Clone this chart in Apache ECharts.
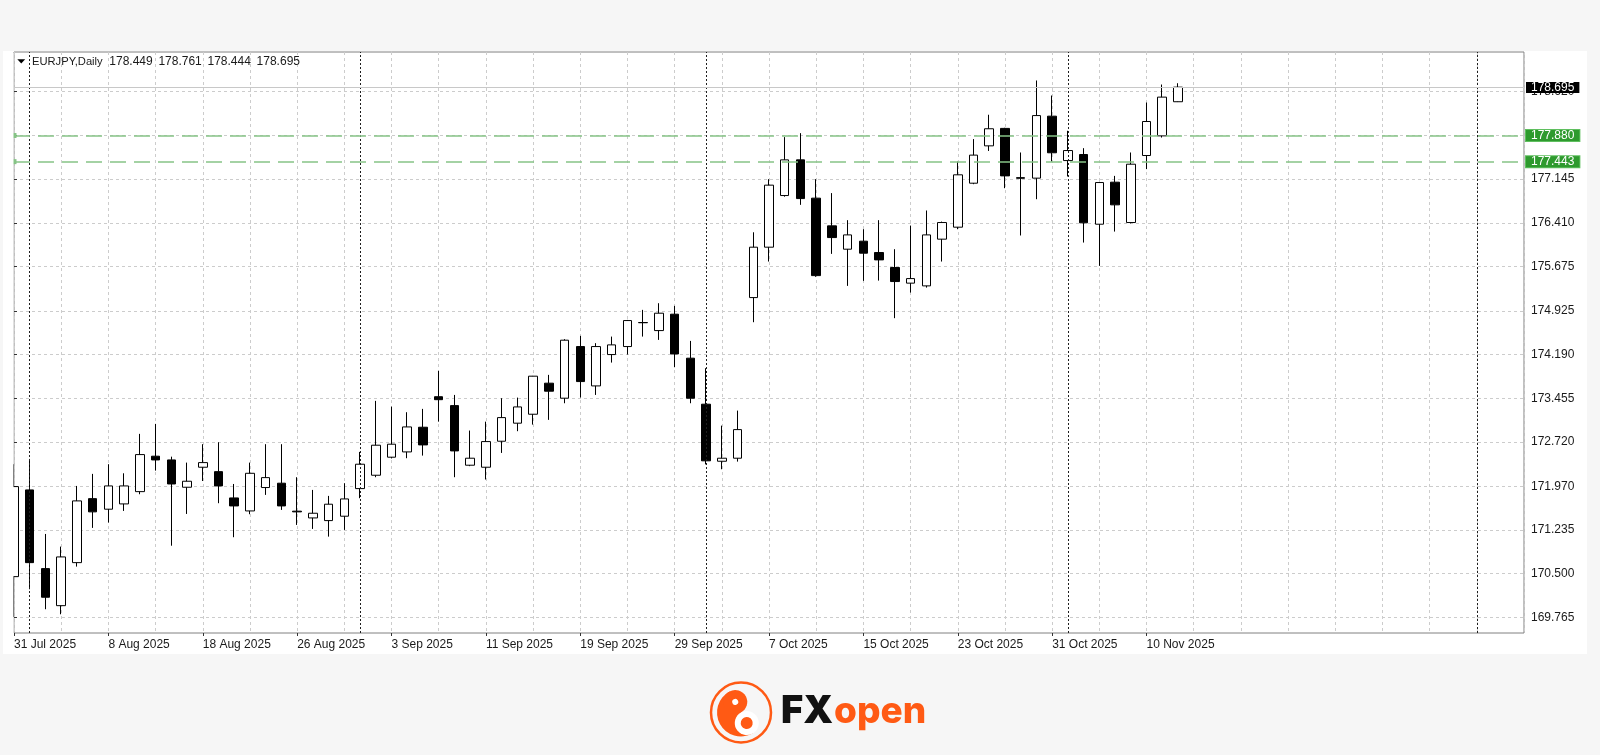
<!DOCTYPE html>
<html>
<head>
<meta charset="utf-8">
<script src="https://cdn.jsdelivr.net/npm/echarts@6/dist/echarts.min.js"></script>
<style>
html,body{margin:0;padding:0;background:#f6f6f6;}
#c{width:1600px;height:755px;}
</style>
</head>
<body>
<div id="c"></div>
<script>
// ---------------- data ----------------
const symbolName = 'EURJPY,Daily';

const dates = [
  '31 Jul 2025',
  '1 Aug 2025','4 Aug 2025','5 Aug 2025','6 Aug 2025','7 Aug 2025','8 Aug 2025',
  '11 Aug 2025','12 Aug 2025','13 Aug 2025','14 Aug 2025','15 Aug 2025',
  '18 Aug 2025','19 Aug 2025','20 Aug 2025','21 Aug 2025','22 Aug 2025',
  '25 Aug 2025','26 Aug 2025','27 Aug 2025','28 Aug 2025','29 Aug 2025',
  '1 Sep 2025','2 Sep 2025','3 Sep 2025','4 Sep 2025','5 Sep 2025',
  '8 Sep 2025','9 Sep 2025','10 Sep 2025','11 Sep 2025','12 Sep 2025',
  '15 Sep 2025','16 Sep 2025','17 Sep 2025','18 Sep 2025','19 Sep 2025',
  '22 Sep 2025','23 Sep 2025','24 Sep 2025','25 Sep 2025','26 Sep 2025',
  '29 Sep 2025','30 Sep 2025',
  '1 Oct 2025','2 Oct 2025','3 Oct 2025',
  '6 Oct 2025','7 Oct 2025','8 Oct 2025','9 Oct 2025','10 Oct 2025',
  '13 Oct 2025','14 Oct 2025','15 Oct 2025','16 Oct 2025','17 Oct 2025',
  '20 Oct 2025','21 Oct 2025','22 Oct 2025','23 Oct 2025','24 Oct 2025',
  '27 Oct 2025','28 Oct 2025','29 Oct 2025','30 Oct 2025','31 Oct 2025',
  '3 Nov 2025','4 Nov 2025','5 Nov 2025','6 Nov 2025','7 Nov 2025',
  '10 Nov 2025','11 Nov 2025','12 Nov 2025'
];

const open = [
  170.449,171.910,170.584,169.960,170.685,171.763,171.585,171.674,171.881,172.478,
  172.415,171.955,172.292,172.218,171.775,171.556,171.950,172.023,171.552,171.438,
  171.393,171.467,171.932,172.157,172.461,172.550,172.966,173.480,173.330,172.326,
  172.292,172.730,173.034,173.185,173.708,173.455,174.325,173.662,174.190,174.325,
  174.730,174.594,174.870,174.129,173.354,172.393,172.444,175.150,175.999,176.869,
  177.470,176.825,176.358,175.965,176.100,175.909,175.656,175.393,175.347,176.134,
  176.336,177.077,177.706,178.000,177.170,177.162,178.206,177.458,177.560,176.386,
  177.094,176.414,177.543,177.874,178.449
];
const high = [
  172.343,172.432,171.168,170.955,171.977,172.180,172.343,172.190,172.854,173.022,
  172.470,172.370,172.680,172.713,172.010,172.370,172.680,172.680,172.124,171.910,
  171.809,172.023,172.550,173.410,173.313,173.219,173.275,173.915,173.510,172.910,
  173.060,173.455,173.465,173.830,173.848,174.449,174.505,174.382,174.493,174.774,
  174.943,175.055,175.010,174.420,173.960,172.993,173.246,176.250,177.145,177.853,
  177.920,177.145,176.910,176.454,176.302,176.454,175.965,176.363,176.617,176.430,
  177.442,177.820,178.230,178.010,177.594,178.807,178.554,177.960,177.667,177.100,
  177.200,177.594,178.436,178.739,178.761
];
const low = [
  169.770,170.237,169.900,169.815,170.618,171.270,171.360,171.556,171.837,172.235,
  170.970,171.505,172.060,171.686,171.113,171.500,171.826,171.573,171.320,171.253,
  171.123,171.236,171.770,172.124,172.440,172.444,172.488,173.060,172.124,172.310,
  172.085,172.533,172.899,173.010,173.090,173.370,173.465,173.510,174.055,174.190,
  174.493,174.437,173.977,173.370,172.340,172.258,172.387,174.735,175.757,176.850,
  176.712,175.500,175.886,175.347,175.431,175.436,174.803,175.234,175.318,175.757,
  176.302,177.060,177.620,176.993,176.196,176.807,177.442,177.190,176.077,175.684,
  176.262,176.400,177.314,177.846,178.444
];
const close = [
  171.966,170.685,170.102,170.781,171.725,171.540,171.977,171.977,172.505,172.415,
  172.010,172.056,172.370,171.977,171.640,172.190,172.117,171.640,171.540,171.517,
  171.669,171.758,172.343,172.663,172.680,172.971,172.668,173.430,172.567,172.444,
  172.724,173.128,173.308,173.826,173.573,174.432,173.735,174.325,174.353,174.763,
  174.726,174.887,174.200,173.455,172.400,172.444,172.926,175.999,177.044,177.470,
  176.818,175.520,176.161,176.206,175.898,175.785,175.420,175.470,176.206,176.414,
  177.218,177.550,177.994,177.200,177.160,178.216,177.589,177.627,176.409,177.088,
  176.712,177.397,178.116,178.527,178.695
];

const xTickLabels = ['31 Jul 2025','8 Aug 2025','18 Aug 2025','26 Aug 2025','3 Sep 2025',
  '11 Sep 2025','19 Sep 2025','29 Sep 2025','7 Oct 2025','15 Oct 2025','23 Oct 2025',
  '31 Oct 2025','10 Nov 2025'];
const yTickLabels = ['169.765','170.500','171.235','171.970','172.720','173.455','174.190',
  '174.925','175.675','176.410','177.145','177.880','178.620'];

const levelLines = [177.880, 177.443];          // green horizontal levels
const separatorBars = [1, 22, 44, 67, 93];      // month separators (bar index)

// ---------------- build ----------------
const last = close.length - 1;
const candles = dates.map((d, i) => [i, open[i], close[i], low[i], high[i]]);
const xTickIdx = xTickLabels.map(l => dates.indexOf(l));
const xGrid = []; for (let v = 0; v <= 96; v += 3) xGrid.push(v);
const yTicks = yTickLabels.map(Number);

const FONT = 'Liberation Sans';
const TXT = '#1a1a1a';
const ORANGE = '#ff5a14';

const chart = echarts.init(document.getElementById('c'), null, {renderer: 'canvas'});

const greenLabel = v => ({
  show: true, position: 'end', distance: 2, formatter: v.toFixed(3),
  backgroundColor: '#2e9a2e', borderColor: '#5fbf5f', borderWidth: 1,
  color: '#ffffff', fontFamily: FONT, fontSize: 12, lineHeight: 11, padding: [0, 5, 0, 5]
});

const markData = [];
separatorBars.forEach(b => markData.push({
  xAxis: b, label: {show: false},
  lineStyle: {color: '#1e1e1e', type: [2, 2], width: 1}
}));
markData.push({
  yAxis: close[last],
  lineStyle: {color: '#c8c8c8', type: 'solid', width: 1},
  label: {show: true, position: 'end', distance: 2, formatter: close[last].toFixed(3),
    backgroundColor: '#000000', color: '#ffffff', fontFamily: FONT, fontSize: 12,
    lineHeight: 11, padding: [0, 5, 0, 5]}
});
levelLines.forEach((v, k) => markData.push({
  yAxis: v,
  symbol: k === 0 ? ['emptyRect', 'emptyRect'] : ['none', 'none'],
  symbolSize: 5,
  lineStyle: {color: '#86c386', type: [16, 8], width: 1.5},
  label: greenLabel(v)
}));

const option = {
  backgroundColor: '#f6f6f6',
  animation: false,
  grid: {left: 14, right: 76, top: 52, bottom: 122, show: true,
    borderColor: '#808080', borderWidth: 1, backgroundColor: 'transparent'},
  xAxis: [
    {
      type: 'value', min: 0, max: 96, position: 'bottom',
      axisLine: {show: false},
      axisTick: {show: false, customValues: xGrid},
      axisLabel: {show: false, customValues: xGrid},
      splitLine: {show: true, lineStyle: {color: '#cccccc', type: [3, 3], width: 1}}
    },
    {
      type: 'value', min: 0, max: 96, position: 'bottom', gridIndex: 0,
      axisLine: {show: false},
      axisTick: {show: true, length: 3, customValues: xTickIdx, lineStyle: {color: '#333333'}},
      axisLabel: {show: true, customValues: xTickIdx, align: 'left', margin: 6,
        color: TXT, fontFamily: FONT, fontSize: 12,
        formatter: v => dates[Math.round(v)] || ''},
      splitLine: {show: false}
    }
  ],
  yAxis: {
    type: 'value', position: 'right', min: 169.4995, max: 179.287,
    axisLine: {show: false},
    axisTick: {show: true, length: 3, customValues: yTicks, lineStyle: {color: '#333333'}},
    axisLabel: {show: true, customValues: yTicks, margin: 7, color: TXT,
      fontFamily: FONT, fontSize: 12, formatter: v => Number(v).toFixed(3)},
    splitLine: {show: true, lineStyle: {color: '#cccccc', type: [3, 3], width: 1}}
  },
  series: [{
    type: 'candlestick',
    xAxisIndex: 0, yAxisIndex: 0,
    dimensions: ['idx', 'open', 'close', 'lowest', 'highest'],
    encode: {x: 'idx', y: ['open', 'close', 'lowest', 'highest']},
    data: candles,
    barWidth: 9,
    clip: true,
    itemStyle: {color: '#ffffff', color0: '#000000', borderColor: '#000000',
      borderColor0: '#000000', borderWidth: 1},
    markLine: {silent: true, animation: false, symbol: ['none', 'none'], data: markData}
  }],
  graphic: [
    {type: 'rect', z: -1, silent: true, shape: {x: 3, y: 51, width: 1584, height: 603},
      style: {fill: '#ffffff'}},
    // mask: cut the first candle at the plot's left edge
    {type: 'rect', z: 50, silent: true, shape: {x: 3, y: 53, width: 10.5, height: 580},
      style: {fill: '#ffffff'}},
    {type: 'polygon', z: 60, shape: {points: [[17.3, 59.3], [25.2, 59.3], [21.25, 63.6]]},
      style: {fill: '#000'}},
    {type: 'text', z: 60, x: 32, y: 62, style: {text: symbolName, fill: TXT,
      font: '11.2px "Liberation Sans"', verticalAlign: 'middle'}},
    ...[open[last], high[last], low[last], close[last]].map((v, k) => ({
      type: 'text', z: 60, x: 109.3 + k * 49.1, y: 62,
      style: {text: v.toFixed(3), fill: TXT, font: '12px "Liberation Sans"', verticalAlign: 'middle'}
    })),
    // logo
    {type: 'circle', z: 10, shape: {cx: 741, cy: 712.5, r: 30}, style: {fill: 'none', stroke: ORANGE, lineWidth: 2.5}},
    {type: 'group', z: 10, x: 741, y: 712.5, rotation: 0.5, children: [
      {type: 'sector', shape: {cx: 0, cy: 0, r: 24, r0: 0, startAngle: Math.PI / 2, endAngle: Math.PI * 1.5, clockwise: true},
        style: {fill: ORANGE}},
      {type: 'circle', shape: {cx: 0, cy: -12, r: 12}, style: {fill: ORANGE}},
      {type: 'circle', shape: {cx: 0, cy: 12, r: 12}, style: {fill: '#ffffff'}},
      {type: 'circle', shape: {cx: 0, cy: 12, r: 6}, style: {fill: ORANGE}},
      {type: 'circle', shape: {cx: 0, cy: -12, r: 3}, style: {fill: '#ffffff'}}
    ]},
    {type: 'text', z: 10, x: 781, y: 712, style: {text: 'FX', fill: '#111111',
      font: '900 38px Inter', verticalAlign: 'middle'}},
    {type: 'text', z: 10, x: 834, y: 712, style: {text: 'open', fill: ORANGE,
      font: '800 37px Inter', verticalAlign: 'middle'}}
  ]
};

chart.setOption(option);
</script>
</body>
</html>
